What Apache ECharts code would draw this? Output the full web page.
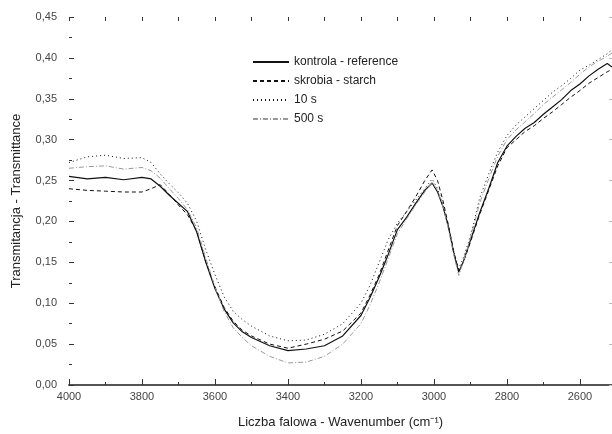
<!DOCTYPE html>
<html><head><meta charset="utf-8">
<script src="https://cdn.jsdelivr.net/npm/echarts@6/dist/echarts.min.js"></script>
<style>html,body{margin:0;padding:0;background:#fff}#c{width:612px;height:434px}</style>
</head><body><div id="c"></div>
<script>
const wavenumbers = [4000,3950,3900,3850,3800,3775,3750,3725,3700,3675,3650,3625,3600,3575,3550,3525,3500,3450,3400,3350,3300,3250,3200,3175,3150,3125,3100,3075,3050,3025,3005,2990,2975,2960,2945,2932,2920,2905,2890,2875,2850,2825,2800,2775,2750,2725,2700,2675,2650,2625,2600,2575,2550,2525,2512];
const kontrola = [0.255,0.252,0.254,0.251,0.254,0.252,0.243,0.232,0.222,0.212,0.187,0.150,0.118,0.093,0.076,0.065,0.058,0.048,0.042,0.044,0.048,0.060,0.085,0.107,0.132,0.160,0.190,0.205,0.222,0.238,0.247,0.236,0.218,0.193,0.160,0.138,0.150,0.170,0.190,0.210,0.240,0.272,0.292,0.304,0.314,0.321,0.331,0.340,0.349,0.360,0.368,0.378,0.386,0.393,0.389];
const skrobia = [0.240,0.238,0.237,0.236,0.236,0.240,0.245,0.233,0.220,0.208,0.188,0.150,0.120,0.095,0.078,0.067,0.060,0.050,0.045,0.050,0.056,0.066,0.088,0.110,0.135,0.165,0.195,0.212,0.230,0.250,0.263,0.250,0.225,0.195,0.162,0.140,0.150,0.168,0.188,0.208,0.238,0.268,0.290,0.300,0.310,0.317,0.326,0.334,0.343,0.352,0.360,0.369,0.376,0.383,0.386];
const s10 = [0.272,0.279,0.281,0.277,0.278,0.272,0.258,0.246,0.235,0.222,0.200,0.165,0.135,0.108,0.090,0.080,0.072,0.060,0.054,0.055,0.062,0.075,0.100,0.122,0.150,0.178,0.198,0.212,0.226,0.240,0.252,0.240,0.220,0.192,0.162,0.142,0.155,0.175,0.200,0.228,0.258,0.285,0.305,0.318,0.328,0.338,0.348,0.358,0.366,0.375,0.385,0.391,0.398,0.405,0.410];
const s500 = [0.265,0.267,0.268,0.264,0.266,0.262,0.253,0.240,0.228,0.214,0.192,0.155,0.120,0.090,0.070,0.058,0.048,0.035,0.027,0.028,0.035,0.050,0.075,0.098,0.125,0.155,0.185,0.203,0.220,0.236,0.248,0.238,0.218,0.190,0.158,0.134,0.150,0.172,0.196,0.222,0.252,0.280,0.300,0.312,0.322,0.332,0.343,0.352,0.361,0.370,0.380,0.389,0.396,0.402,0.406];
const xMajorTicks = [4000,3800,3600,3400,3200,3000,2800,2600];
const xMinorTicks = [3900,3700,3500,3300,3100,2900,2700];
const seriesNames = ['kontrola - reference','skrobia - starch','10 s','500 s'];

const pair = arr => wavenumbers.map((w,i)=>[w,arr[i]]);
const font = 'Liberation Sans, Arial, sans-serif';
const labelColor = '#444';
const xBase = {type:'value', min:2512, max:4000, inverse:true, splitLine:{show:false}};
const chart = echarts.init(document.getElementById('c'));
chart.setOption({
  animation:false,
  backgroundColor:'#fff',
  grid:{left:69, right:0, top:17, bottom:48},
  legend:{
    orient:'vertical', left:247, top:51, itemWidth:36, itemHeight:10, itemGap:7,
    itemStyle:{opacity:0},
    textStyle:{fontFamily:font, fontSize:12, color:'#222', padding:[0,0,0,0]},
    data:seriesNames
  },
  xAxis:[
    Object.assign({}, xBase, {
      position:'bottom',
      name:'Liczba falowa - Wavenumber (cm\u207B\u00B9)', nameLocation:'middle', nameGap:31,
      nameTextStyle:{fontFamily:font, fontSize:13, color:'#222'},
      axisLine:{show:true, lineStyle:{color:'#555', width:2}},
      axisTick:{show:true, inside:true, length:6, lineStyle:{color:'#333'}, customValues:xMajorTicks},
      axisLabel:{show:true, margin:6, fontFamily:font, fontSize:11, color:labelColor, customValues:xMajorTicks,
        formatter:v=>String(Math.round(v))}
    }),
    Object.assign({}, xBase, {
      position:'bottom',
      axisLine:{show:false},
      axisTick:{show:true, inside:true, length:3, lineStyle:{color:'#333'}, customValues:xMinorTicks},
      axisLabel:{show:false}
    }),
    Object.assign({}, xBase, {
      position:'top',
      axisLine:{show:false},
      axisTick:{show:true, inside:true, length:4, lineStyle:{color:'#333'}, customValues:xMajorTicks.concat(xMinorTicks)},
      axisLabel:{show:false}
    })
  ],
  yAxis:[
    {
      type:'value', min:0, max:0.45, interval:0.05, position:'left',
      name:'Transmitancja - Transmittance', nameLocation:'middle', nameGap:46,
      nameTextStyle:{fontFamily:font, fontSize:13, color:'#222'},
      axisLine:{show:false},
      splitLine:{show:false},
      axisTick:{show:true, inside:true, length:5, lineStyle:{color:'#333'}},
      minorTick:{show:true, splitNumber:2, length:3, lineStyle:{color:'#333'}},
      axisLabel:{margin:12, fontFamily:font, fontSize:11, color:labelColor,
        formatter:v=>v.toFixed(2).replace('.',',')}
    },
    {
      type:'value', min:0, max:0.45, interval:0.05, position:'right',
      axisLine:{show:false}, splitLine:{show:false},
      axisTick:{show:true, inside:true, length:3, lineStyle:{color:'#bbb'}},
      axisLabel:{show:false}
    }
  ],
  series:[
    {name:seriesNames[0], type:'line', data:pair(kontrola), showSymbol:false, symbol:'none',
      lineStyle:{color:'#111', width:1.2, type:'solid'}, itemStyle:{color:'#111'}},
    {name:seriesNames[1], type:'line', data:pair(skrobia), showSymbol:false, symbol:'none',
      lineStyle:{color:'#111', width:1, type:[4,3]}, itemStyle:{color:'#111'}},
    {name:seriesNames[2], type:'line', data:pair(s10), showSymbol:false, symbol:'none',
      lineStyle:{color:'#111', width:1, type:[1,3]}, itemStyle:{color:'#111'}},
    {name:seriesNames[3], type:'line', data:pair(s500), showSymbol:false, symbol:'none',
      lineStyle:{color:'#999', width:1, type:[5,2,1,2]}, itemStyle:{color:'#999'}}
  ]
});
</script></body></html>
